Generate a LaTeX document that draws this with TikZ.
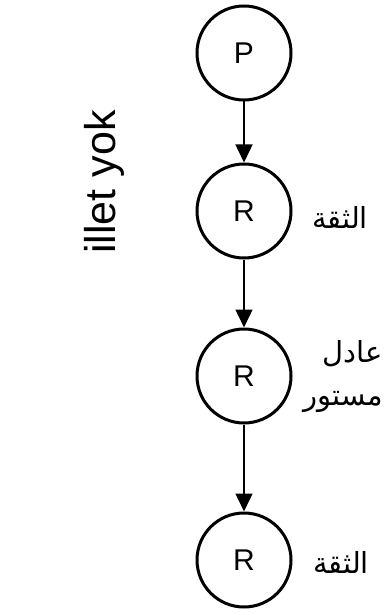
\documentclass[tikz,border=0pt]{standalone}
\usepackage{fontspec}
\setmainfont{Liberation Sans}
\newfontfamily\arabicfont[Script=Arabic]{DejaVu Sans}
\TeXXeTstate=1
\usetikzlibrary{arrows.meta}
\begin{document}
\begin{tikzpicture}[x=1pt,y=-1pt,
  st/.style={circle,draw,line width=3pt,minimum size=94pt,inner sep=0pt,font=\fontsize{30}{30}\selectfont},
  conn/.style={line width=1.5pt,-{Triangle[width=17pt,length=18pt]}},
  ar/.style={font=\arabicfont\fontsize{29}{34}\selectfont,inner sep=0pt}]
\useasboundingbox (0,0) rectangle (385,612);
\node[st] (p) at (244,53) {P};
\node[st] (r1) at (244,211) {R};
\node[st] (r2) at (244,376) {R};
\node[st] (r3) at (244,560) {R};
\draw[conn] (p) -- (r1);
\draw[conn] (r1) -- (r2);
\draw[conn] (r2) -- (r3);
\node[ar] (l1) at (340,217) {\beginR الثقة\endR};
\node[ar,anchor=east] (l2a) at (383,354) {\beginR عادل\endR};
\node[ar,anchor=east] (l2b) at (383,402) {\beginR مستور\endR};
\node[ar] (l3) at (341,562) {\beginR الثقة\endR};
\node[rotate=90,font=\fontsize{43}{43}\selectfont,inner sep=0pt] (t) at (104,182) {illet yok};
\end{tikzpicture}
\end{document}
